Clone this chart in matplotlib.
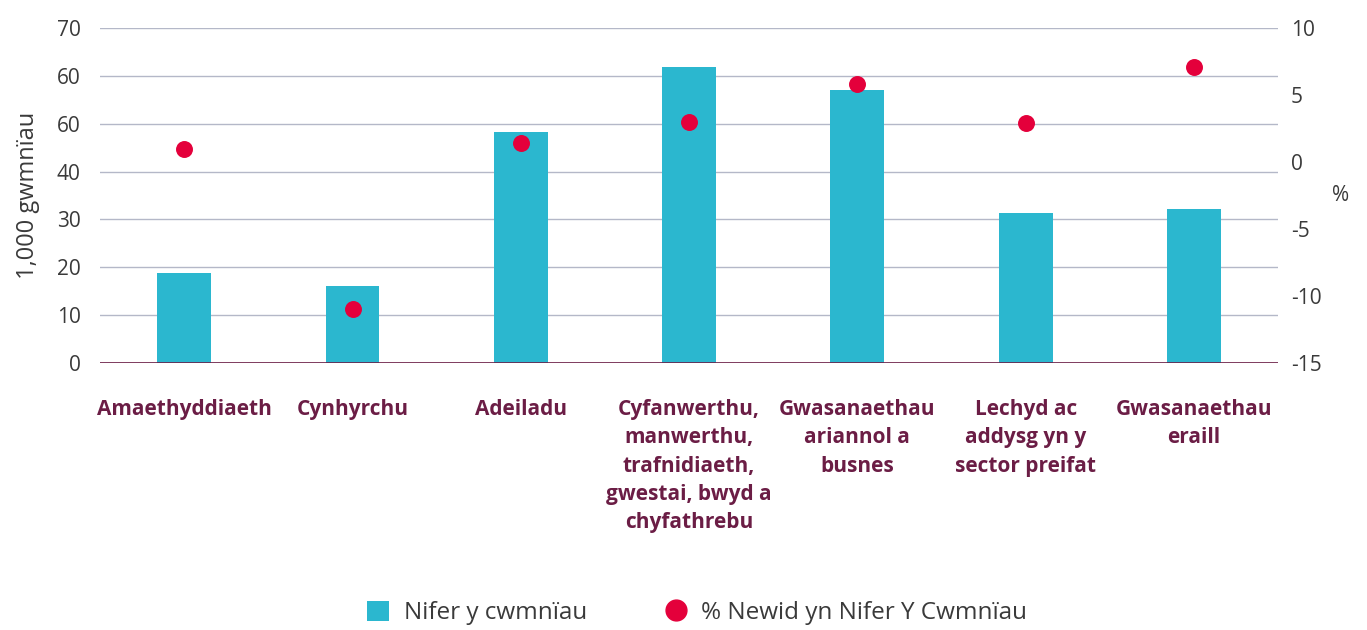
import matplotlib.pyplot as plt
from matplotlib.lines import Line2D
from matplotlib.patches import Patch
import numpy as np

categories = [
    "Amaethyddiaeth",
    "Cynhyrchu",
    "Adeiladu",
    "Cyfanwerthu,\nmanwerthu,\ntrafnidiaeth,\ngwestai, bwyd a\nchyfathrebu",
    "Gwasanaethau\nariannol a\nbusnes",
    "Lechyd ac\naddysg yn y\nsector preifat",
    "Gwasanaethau\neraill",
]
nifer = [18.8, 16.1, 48.3, 61.8, 57.0, 31.4, 32.2]          # 1,000 gwmnïau
newid = [1.0, -11.0, 1.4, 3.0, 5.8, 2.9, 7.1]               # %
left_ticks = [0, 10, 20, 30, 40, 50, 60, 70]
left_labels = ["0", "10", "20", "30", "40", "60", "60", "70"]  # as printed in the source
right_ticks = [-15, -10, -5, 0, 5, 10]
right_labels = ["-15", "-10", "-5", "0", "5", "10"]

teal = "#2bb7cf"
red = "#e4003b"
maroon = "#6b1d45"
grid_c = "#b4b8c8"
txt = "#3a3a3a"

plt.rcParams['font.family'] = ['Open Sans', 'DejaVu Sans']

fig = plt.figure(figsize=(13.67, 6.3), dpi=100)
ax = fig.add_axes([0.0732, 0.4238, 0.8618, 0.5318])
ax2 = ax.twinx()

x = np.arange(len(categories))
ax.bar(x, nifer, width=0.32, color=teal, zorder=3)
ax.set_ylim(0, 70)
ax.set_xlim(-0.5, len(categories) - 0.5)
ax.set_yticks(left_ticks)
ax.set_yticklabels(left_labels)
ax.yaxis.grid(True, color=grid_c, linewidth=1, zorder=0)
ax.set_axisbelow(True)
ax.axhline(0, color=maroon, linewidth=1.2, zorder=4)
ax.tick_params(axis='y', length=0, pad=14, labelsize=15, labelcolor=txt)
ax.set_xticks(x)
ax.set_xticklabels(categories, fontsize=15, fontweight='bold', color=maroon,
                   linespacing=1.45, va='top')
ax.tick_params(axis='x', length=0, pad=26)
ax.set_ylabel("1,000 gwmnïau", fontsize=17, color=txt, labelpad=12)

ax2.scatter(x, newid, s=125, color=red, zorder=5)
ax2.set_ylim(-15, 10)
ax2.set_yticks(right_ticks)
ax2.set_yticklabels(right_labels)
ax2.tick_params(axis='y', length=0, pad=9, labelsize=15, labelcolor=txt)
ax2.set_ylabel("%", fontsize=15, color=txt, rotation=0, labelpad=14, va='center')

for a in (ax, ax2):
    for s in a.spines.values():
        s.set_visible(False)

handles = [
    Patch(facecolor=teal, edgecolor='none', label="Nifer y cwmnïau"),
    Line2D([], [], marker='o', linestyle='none', markersize=15, color=red,
           label="% Newid yn Nifer Y Cwmnïau"),
]
fig.legend(handles=handles, loc='center', bbox_to_anchor=(0.51, 0.027), ncol=2,
           frameon=False, fontsize=17.5, handlelength=0.9, handleheight=0.9,
           columnspacing=3.2, handletextpad=0.6, labelcolor=txt)

fig.savefig("out.png", dpi=100)
